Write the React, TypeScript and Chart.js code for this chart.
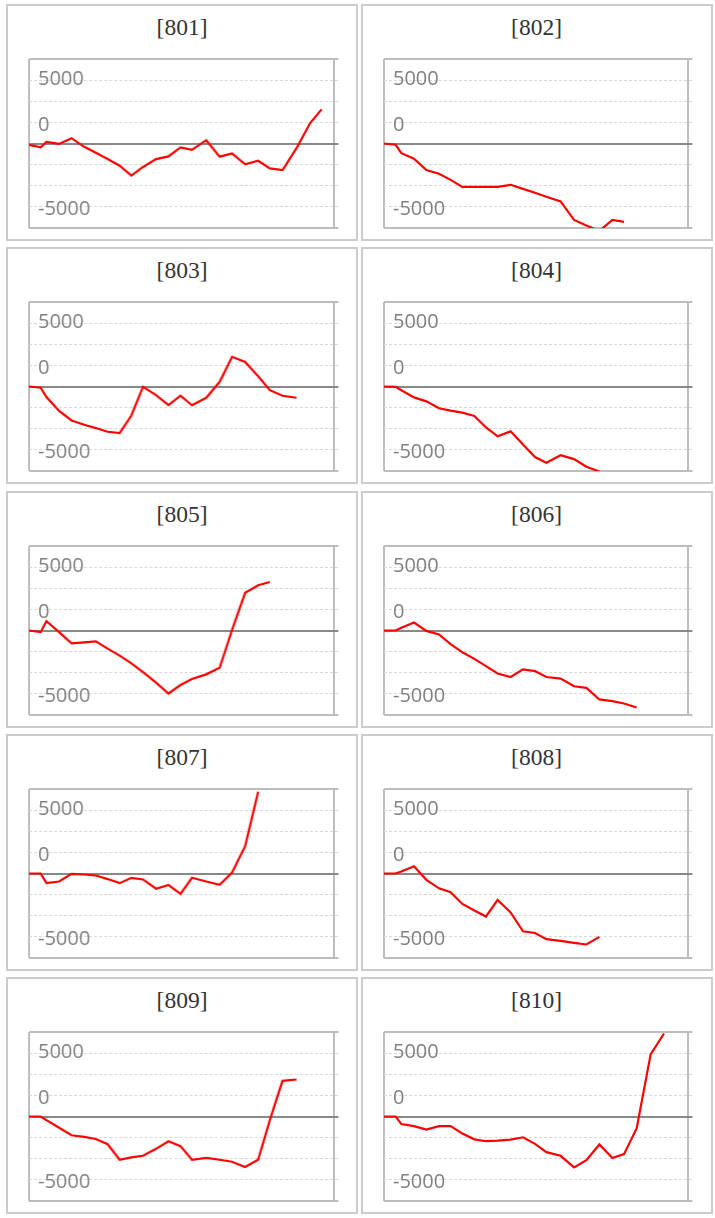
import { useEffect, useRef } from "react"
import { Chart, registerables } from "chart.js"

Chart.register(...registerables)

// panel ids, in reading order (two per row)
const panelIds = ["801", "802", "803", "804", "805", "806", "807", "808", "809", "810"]

// shared x positions (weeks from the first point)
const xWeeks = [
  0, 0.93, 1.39, 2.4, 3.39, 4.4, 5.33, 6.27, 7.23, 8.16, 9.09, 10.13, 11.12,
  12.08, 12.99, 14.13, 15.2, 16.19, 17.23, 18.27, 19.2, 20.21, 21.33, 22.4, 23.33,
]

const s801 = [-100, -300, 130, -30, 420, -260, -730, -1230, -1750, -2530, -1850, -1230, -1020, -310, -500, 260, -1040, -780, -1640, -1360, -1960, -2090, -370, 1590, 2690]
const s802 = [0, -100, -760, -1200, -2090, -2380, -2870, -3420, -3420, -3420, -3420, -3260, -3580, -3890, -4200, -4570, -6030, -6470, -6900, -6030, -6190]
const s803 = [0, -100, -830, -1930, -2680, -3020, -3280, -3570, -3670, -2290, -30, -680, -1460, -730, -1480, -890, 370, 2340, 1930, 810, -290, -730, -890]
const s804 = [0, -30, -290, -860, -1170, -1720, -1900, -2060, -2320, -3230, -3930, -3540, -4580, -5570, -6020, -5420, -5730, -6330, -6700]
const s805 = [0, -130, 730, -130, -1020, -940, -860, -1430, -1980, -2600, -3280, -4110, -4970, -4300, -3830, -3460, -2940, 50, 2970, 3570, 3830]
const s806 = [0, 0, 210, 630, -30, -310, -1070, -1720, -2240, -2810, -3390, -3670, -3070, -3200, -3670, -3800, -4400, -4530, -5440, -5570, -5760, -6070]
const s807 = [0, 0, -760, -630, -30, -80, -160, -440, -760, -340, -470, -1200, -910, -1610, -340, -630, -890, 80, 2160, 6450]
const s808 = [0, 0, 160, 570, -500, -1170, -1480, -2400, -2920, -3390, -2080, -3070, -4560, -4690, -5180, -5310, -5470, -5600, -5000]
const s809 = [0, 0, -290, -890, -1480, -1610, -1770, -2190, -3410, -3230, -3100, -2550, -1950, -2340, -3410, -3260, -3410, -3570, -3980, -3410, -290, 2810, 2920]
const s810 = [0, 0, -600, -760, -1040, -760, -760, -1350, -1800, -1950, -1900, -1820, -1640, -2160, -2810, -3100, -4010, -3440, -2210, -3280, -2970, -940, 4900, 6550]

const seriesValues = [s801, s802, s803, s804, s805, s806, s807, s808, s809, s810]

// y labels written inside the plot
const tickLabels = [5000, 0, -5000]

const yLimit = 20000 / 3
const gridStep = yLimit / 4
const xMax = 24.67
const frameRight = 24.32

// draws the y labels; the "0" sits one grid step above the baseline
const yLabelsPlugin = {
  id: "yLabels",
  beforeDatasetsDraw(chart: any) {
    const { ctx, chartArea, scales } = chart
    ctx.save()
    ctx.font = "20px 'Open Sans'"
    ctx.fillStyle = "#808080"
    ctx.textBaseline = "middle"
    ctx.textAlign = "left"
    tickLabels.forEach((v) => {
      const pos = v === 0 ? gridStep : v
      const nudge = v > 0 ? -1 : 2.5
      ctx.fillText(String(v), chartArea.left + 9, scales.y.getPixelForValue(pos) + nudge)
    })
    ctx.restore()
  },
}

function MiniChart({ values }: { values: number[] }) {
  const chartRef = useRef<HTMLCanvasElement>(null)
  const chartInstance = useRef<Chart | null>(null)

  useEffect(() => {
    if (!chartRef.current) return
    if (chartInstance.current) chartInstance.current.destroy()

    chartInstance.current = new Chart(chartRef.current, {
      type: "line",
      data: {
        datasets: [
          {
            data: values.map((v, i) => ({ x: xWeeks[i], y: v })),
            borderColor: "#ff0000",
            borderWidth: 2.2,
            pointRadius: 0,
            tension: 0,
            fill: false,
          },
        ],
      },
      options: {
        animation: false,
        responsive: true,
        maintainAspectRatio: false,
        events: [],
        layout: { padding: 2 },
        plugins: { legend: { display: false }, tooltip: { enabled: false } },
        scales: {
          x: {
            type: "linear",
            min: 0,
            max: xMax,
            afterBuildTicks: (s: any) => {
              s.ticks = [{ value: 0 }, { value: frameRight }]
            },
            ticks: { display: false },
            grid: { color: "#bdbdbd", lineWidth: 2, drawTicks: false },
            border: { display: false },
          },
          y: {
            min: -yLimit,
            max: yLimit,
            afterBuildTicks: (s: any) => {
              s.ticks = [-3, -2, -1, 1, 2, 3].map((i) => ({ value: i * gridStep }))
            },
            ticks: { display: false },
            grid: { color: "#d9d9d9", lineWidth: 1, drawTicks: false },
            border: { display: false, dash: [3, 2] },
          },
          yFrame: {
            position: "left",
            min: -yLimit,
            max: yLimit,
            afterBuildTicks: (s: any) => {
              s.ticks = [-yLimit, 0, yLimit].map((v) => ({ value: v }))
            },
            ticks: { display: false },
            grid: {
              lineWidth: 2,
              drawTicks: false,
              color: (c: any) => (c.tick && c.tick.value === 0 ? "#888888" : "#bdbdbd"),
            },
            border: { display: false },
          },
        },
      } as any,
      plugins: [yLabelsPlugin],
    })

    return () => {
      if (chartInstance.current) {
        chartInstance.current.destroy()
        chartInstance.current = null
      }
    }
  }, [values])

  return <canvas ref={chartRef} />
}

function Panel({ id, values, left, top }: { id: string; values: number[]; left: number; top: number }) {
  return (
    <div
      style={{
        position: "absolute",
        left,
        top,
        width: 348,
        height: 233,
        border: "2px solid #ccc",
        background: "#fff",
      }}
    >
      <div
        style={{
          position: "absolute",
          top: 8,
          left: 0,
          right: 0,
          textAlign: "center",
          fontFamily: "'Liberation Serif', serif",
          fontSize: 23.5,
          lineHeight: "27px",
          color: "#333",
        }}
      >
        [{id}]
      </div>
      <div style={{ position: "absolute", left: 19.3, top: 51, width: 312.4, height: 173 }}>
        <MiniChart values={values} />
      </div>
    </div>
  )
}

export default function App() {
  return (
    <div style={{ position: "absolute", left: 0, top: 0, width: 715, height: 1218, background: "#fff" }}>
      {panelIds.map((id, i) => (
        <Panel
          key={id}
          id={id}
          values={seriesValues[i]}
          left={6 + (i % 2) * 354.5}
          top={4 + Math.floor(i / 2) * 243.3}
        />
      ))}
    </div>
  )
}
